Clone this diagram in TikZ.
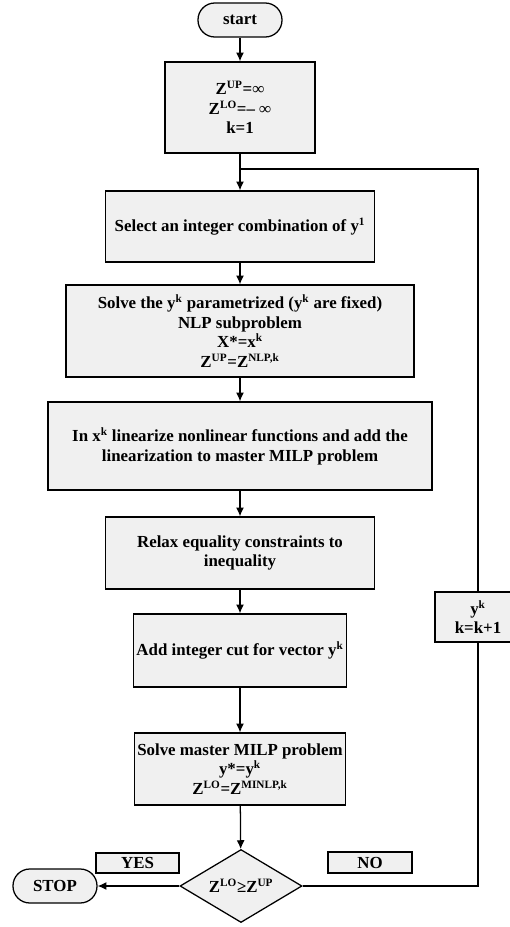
\documentclass[tikz,border=0pt]{standalone}
\usepackage{fontspec}
\setmainfont{Liberation Serif}
\usetikzlibrary{arrows.meta,shapes.geometric}

\begin{document}
\begin{tikzpicture}[x=0.025cm,y=-0.025cm,>=Latex,
  box/.style={draw=black,line width=0.9pt,fill=black!6,align=center,font=\fontsize{12}{14}\selectfont\bfseries,inner sep=2pt},
  term/.style={box,rounded corners=0.42cm,minimum width=2.1cm,minimum height=0.85cm},
  flow/.style={line width=0.9pt,-{Latex[length=2.2mm,width=2mm]}},
  loopline/.style={line width=0.9pt}]
\useasboundingbox (0,0) rectangle (509,927);
\node[term] (start) at (240,20) {start};
\node[box,minimum width=3.75cm,minimum height=2.275cm] (init) at (240,107.5) {Z\textsuperscript{UP}=∞\\Z\textsuperscript{LO}=– ∞\\k=1};
\node[box,minimum width=6.725cm,minimum height=1.775cm] (select) at (240,226.5) {Select an integer combination of y\textsuperscript{1}};
\node[box,minimum width=8.7cm,minimum height=2.3cm] (nlp) at (240,331) {Solve the y\textsuperscript{k} parametrized (y\textsuperscript{k} are fixed)\\NLP subproblem\\X*=x\textsuperscript{k}\\Z\textsuperscript{UP}=Z\textsuperscript{NLP,k}};
\node[box,minimum width=9.6cm,minimum height=2.2cm] (lin) at (240,446) {In x\textsuperscript{k} linearize nonlinear functions and add the\\linearization to master MILP problem};
\node[box,minimum width=6.725cm,minimum height=1.8cm] (relax) at (240,553) {Relax equality constraints to\\inequality};
\node[box,minimum width=5.225cm,minimum height=1.825cm] (cut) at (240,650.5) {Add integer cut for vector y\textsuperscript{k}};
\node[box,minimum width=5.225cm,minimum height=1.8cm] (master) at (240,769) {Solve master MILP problem\\y*=y\textsuperscript{k}\\Z\textsuperscript{LO}=Z\textsuperscript{MINLP,k}};
\node[box,diamond,aspect=1.67,minimum width=3.05cm,minimum height=1.825cm,inner sep=0pt] (dec) at (241,886) {Z\textsuperscript{LO}≥Z\textsuperscript{UP}};
\node[term] (stop) at (55,886) {STOP};
\node[box,minimum width=2.075cm,minimum height=0.5cm,inner sep=0pt] (yes) at (137.5,863) {YES};
\node[box,minimum width=2.1cm,minimum height=0.525cm,inner sep=0pt] (no) at (370,862.5) {NO};
\node[box,minimum width=2.15cm,minimum height=1.25cm] (upd) at (478,617) {y\textsuperscript{k}\\k=k+1};
\coordinate (join) at (240,169);
% main flow
\draw[flow] (start) -- (init);
\draw[flow] (init) -- (select);
\draw[flow] (select) -- (nlp);
\draw[flow] (nlp) -- (lin);
\draw[flow] (lin) -- (relax);
\draw[flow] (relax) -- (cut);
\draw[flow] (cut) -- (master);
\draw[flow] (master) -- (dec);
\draw[flow] (dec.west) -- (stop.east);
% loop back
\draw[loopline] (dec.east) -| (upd.south);
\draw[loopline] (upd.north) |- (join);
\end{tikzpicture}
\end{document}
